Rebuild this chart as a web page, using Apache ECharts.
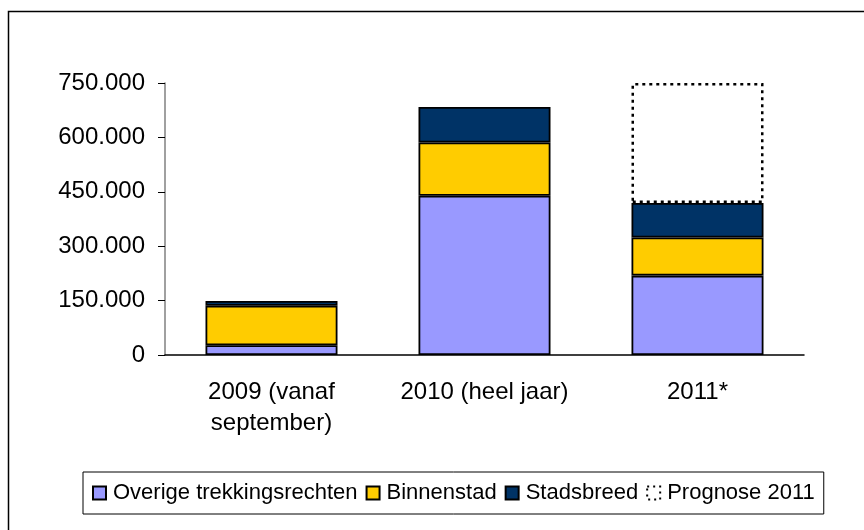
<!DOCTYPE html>
<html>
<head>
<meta charset="utf-8">
<script src="https://cdn.jsdelivr.net/npm/echarts@6/dist/echarts.min.js"></script>
<style>
html,body{margin:0;padding:0;background:#fff;}
#c{width:864px;height:530px;}
</style>
</head>
<body>
<div id="c"></div>
<script>
var categories = ['2009 (vanaf\nseptember)', '2010 (heel jaar)', '2011*'];
var overige = [27000, 439000, 219000];
var binnenstad = [109000, 147000, 105000];
var stadsbreed = [13000, 98000, 95000];
var prognose = [null, null, 331000];
var yTicks = [0, 150000, 300000, 450000, 600000, 750000];

var FONT = '"Liberation Sans", Arial, sans-serif';
function fmt(v){ return String(v).replace(/\B(?=(\d{3})+(?!\d))/g, '.'); }

var chart = echarts.init(document.getElementById('c'), null, {renderer:'canvas'});
var border = {borderColor:'#000', borderWidth:1.8};
chart.setOption({
  animation:false,
  backgroundColor:'#fff',
  graphic:[{type:'rect', shape:{x:8.5,y:11.5,width:900,height:600}, style:{fill:'none',stroke:'#000',lineWidth:1.5}, silent:true}],
  grid:{left:165, right:60, top:83, bottom:175},
  legend:{
    left:83, top:472,
    padding:[10,9,10,9],
    borderColor:'#000', borderWidth:1,
    icon:'rect',
    itemWidth:13, itemHeight:13, itemGap:8,
    textStyle:{fontFamily:FONT, fontSize:22, color:'#000', padding:[0,0,0,2]},
    data:['Overige trekkingsrechten','Binnenstad','Stadsbreed',
      {name:'Prognose 2011', itemStyle:{color:'rgba(255,255,255,0)', borderColor:'#000', borderWidth:2, borderType:[2,4]}}]
  },
  xAxis:{
    type:'category', data:categories,
    axisLine:{lineStyle:{color:'#000', width:1.5}},
    axisTick:{length:7, lineStyle:{color:'#000'}},
    axisLabel:{interval:0, fontFamily:FONT, fontSize:24, color:'#000', margin:22, lineHeight:31}
  },
  yAxis:{
    type:'value', min:yTicks[0], max:yTicks[yTicks.length-1], interval:150000,
    axisLine:{show:true, lineStyle:{color:'#808080', width:1.5}},
    axisTick:{show:true, length:7, lineStyle:{color:'#000'}},
    splitLine:{show:false},
    axisLabel:{fontFamily:FONT, fontSize:24, color:'#000', margin:20, formatter:fmt}
  },
  series:[
    {name:'Overige trekkingsrechten', type:'bar', stack:'a', barWidth:132, data:overige,
      itemStyle:Object.assign({color:'#9999FF'}, border)},
    {name:'Binnenstad', type:'bar', stack:'a', barWidth:132, data:binnenstad,
      itemStyle:Object.assign({color:'#FFCC00'}, border)},
    {name:'Stadsbreed', type:'bar', stack:'a', barWidth:132, data:stadsbreed,
      itemStyle:Object.assign({color:'#003366'}, border)},
    {name:'Prognose 2011', type:'bar', stack:'a', barWidth:132, data:prognose, z:3,
      itemStyle:{color:'rgba(255,255,255,0)', borderColor:'#000', borderWidth:2.5, borderType:[3,4]}}
  ]
});
</script>
</body>
</html>
